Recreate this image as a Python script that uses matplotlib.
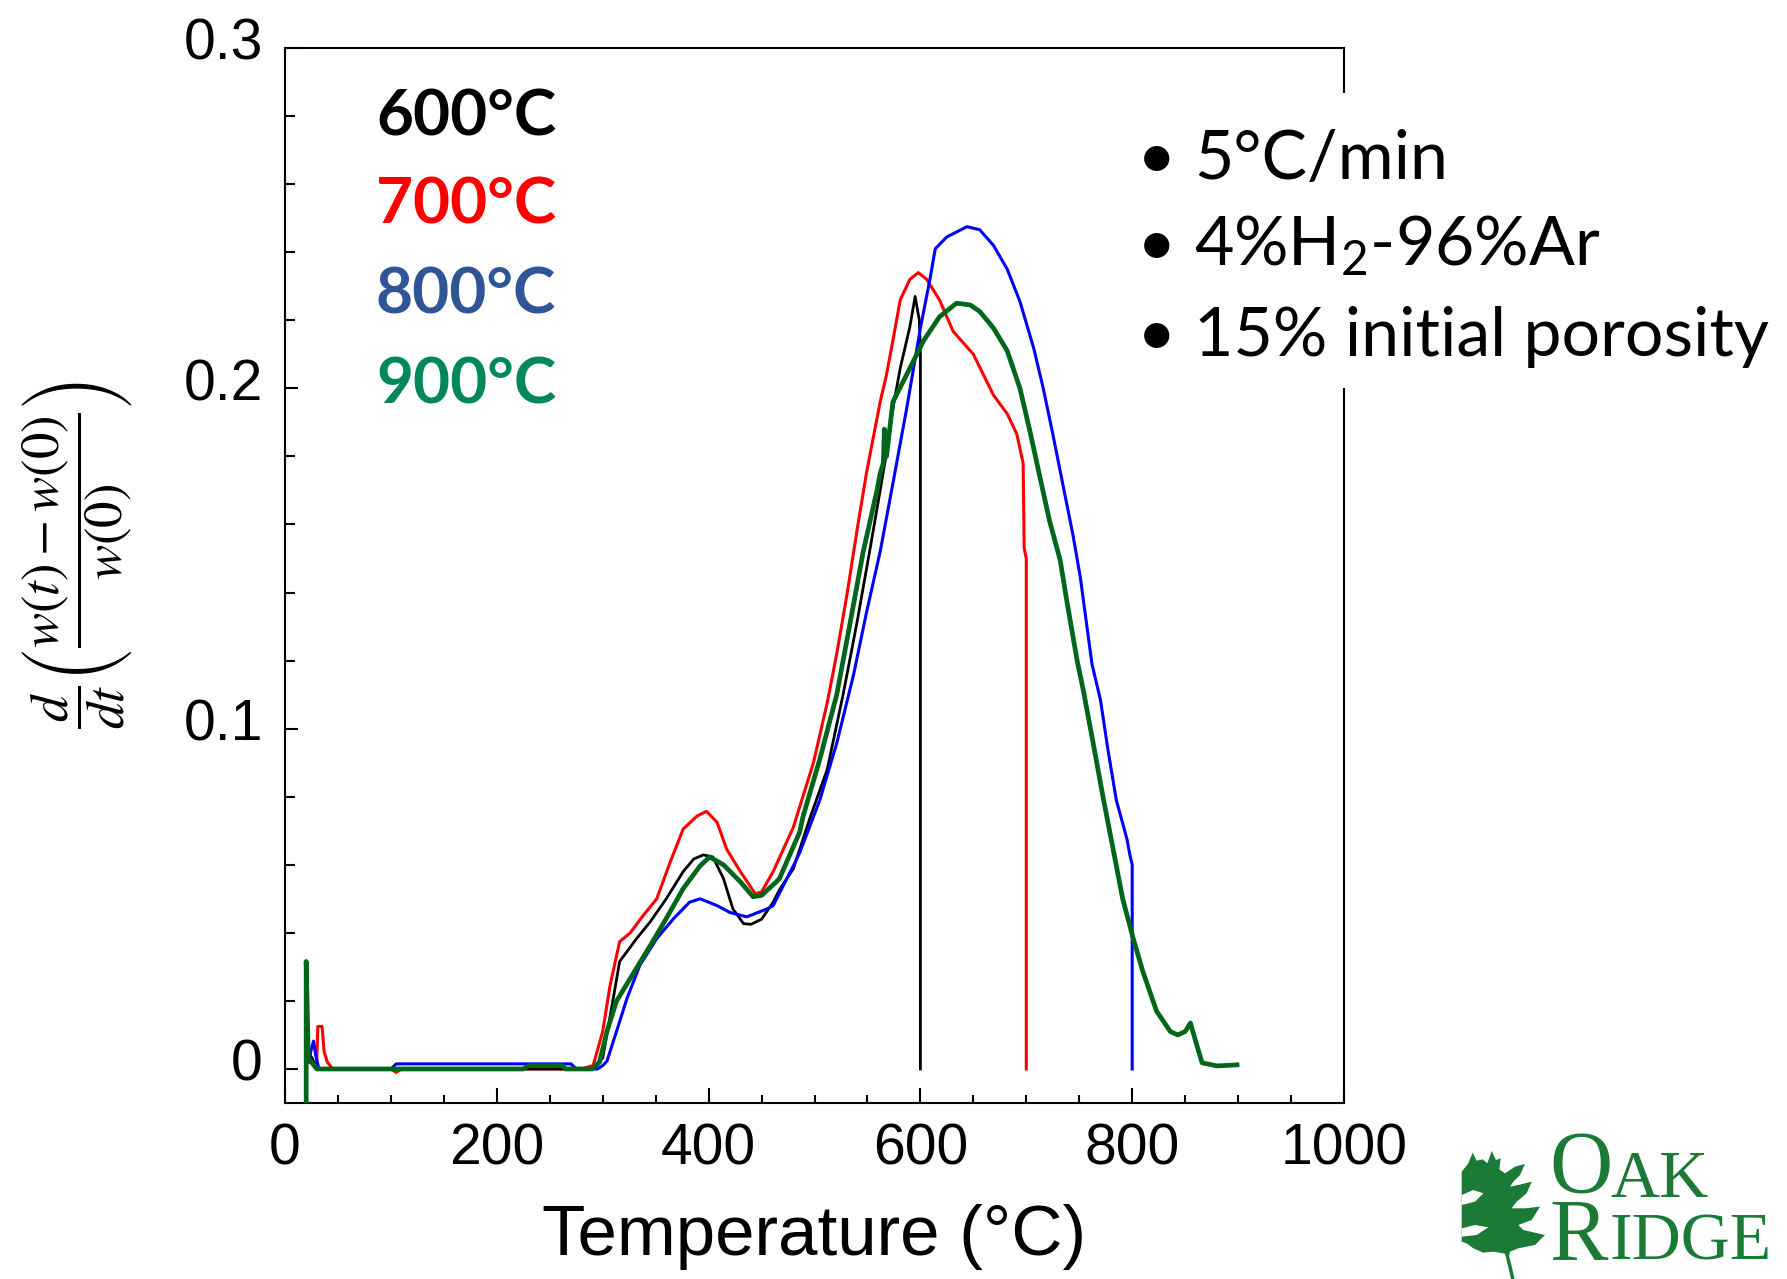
import matplotlib
matplotlib.use("Agg")
import matplotlib.pyplot as plt
from matplotlib.patches import Rectangle, Polygon
from matplotlib.transforms import ScaledTranslation

plt.rcParams['mathtext.fontset'] = 'custom'
plt.rcParams['mathtext.rm'] = 'Lato'
plt.rcParams['mathtext.it'] = 'Lato:italic'

# ---------------- data ----------------
t600 = [20, 22, 26, 30, 100, 200, 290, 293, 300, 310, 316, 332, 345, 360, 376, 386, 395,
        404, 414, 423, 433, 440, 450, 461, 467, 480, 496, 512, 527, 540, 552, 562, 568,
        574, 581, 590, 595, 599, 600, 600]
r600 = [0.0, 0.005, 0.003, 0.0, 0.0, 0.0, 0.0, 0.001, 0.0032, 0.0208, 0.0316, 0.0383,
        0.0433, 0.050, 0.058, 0.0617, 0.0629, 0.0623, 0.056, 0.047, 0.0427, 0.0425, 0.044,
        0.049, 0.0527, 0.0588, 0.074, 0.088, 0.110, 0.131, 0.152, 0.170, 0.181, 0.194,
        0.206, 0.218, 0.227, 0.220, 0.210, 0.0]

t700 = [30, 31, 35, 37, 40, 45, 100, 105, 110, 200, 280, 291, 300, 307, 316, 326, 338,
        351, 364, 376, 389, 398, 408, 417, 430, 444, 450, 461, 480, 499, 512, 521, 531,
        540, 549, 562, 568, 574, 581, 590, 598, 606, 618, 631, 650, 669, 682, 691, 697,
        698, 700, 700]
r700 = [0.002, 0.0125, 0.0125, 0.005, 0.002, 0.0, 0.0, -0.001, 0.0, 0.0, 0.0, 0.001,
        0.011, 0.0246, 0.0374, 0.040, 0.045, 0.050, 0.061, 0.0705, 0.0743, 0.0757, 0.0725,
        0.0646, 0.058, 0.0515, 0.052, 0.058, 0.071, 0.090, 0.1076, 0.122, 0.140, 0.158,
        0.175, 0.196, 0.204, 0.214, 0.226, 0.232, 0.234, 0.232, 0.226, 0.2167, 0.210,
        0.198, 0.1925, 0.1866, 0.178, 0.153, 0.150, 0.0]

t800 = [22, 25, 27, 29, 32, 100, 105, 270, 275, 295, 300, 304, 313, 323, 335, 351, 367,
        382, 392, 408, 420, 436, 455, 461, 480, 486, 505, 521, 537, 549, 562, 574, 587,
        600, 609, 614, 625, 644, 656, 669, 682, 694, 707, 716, 725, 735, 744, 751, 762,
        770, 777, 785, 795, 798, 800, 800]
r800 = [0.002, 0.006, 0.0082, 0.004, 0.0, 0.0, 0.0015, 0.0015, 0.0, 0.0, 0.001, 0.0023,
        0.011, 0.0208, 0.0304, 0.0383, 0.0442, 0.049, 0.050, 0.048, 0.046, 0.0447, 0.047,
        0.048, 0.0597, 0.0635, 0.079, 0.0957, 0.116, 0.134, 0.152, 0.172, 0.194, 0.2177,
        0.232, 0.241, 0.2445, 0.2475, 0.2466, 0.242, 0.235, 0.2255, 0.2118, 0.200,
        0.1866, 0.171, 0.157, 0.1445, 0.119, 0.1085, 0.094, 0.079, 0.0676, 0.0626,
        0.060, 0.0]

t900 = [20, 20, 22, 25, 30, 100, 225, 230, 262, 265, 290, 297, 304, 313, 326, 345, 360,
        376, 392, 401, 414, 430, 442, 450, 464, 467, 486, 489, 505, 521, 533, 546, 559,
        562, 565, 566, 568, 574, 587, 603, 618, 634, 647, 656, 669, 682, 694, 704, 713,
        722, 732, 738, 748, 754, 763, 773, 782, 791, 801, 810, 823, 836, 843, 850, 855,
        861, 866, 880, 899]
r900 = [-0.012, 0.0316, 0.0032, 0.002, 0.0, 0.0, 0.0, 0.001, 0.001, 0.0, 0.0, 0.002,
        0.011, 0.0199, 0.0266, 0.0363, 0.0442, 0.053, 0.0597, 0.0623, 0.060, 0.055,
        0.0506, 0.051, 0.055, 0.056, 0.0696, 0.074, 0.091, 0.110, 0.130, 0.152, 0.170,
        0.175, 0.178, 0.188, 0.180, 0.196, 0.204, 0.214, 0.221, 0.225, 0.2245, 0.2226,
        0.2177, 0.211, 0.200, 0.1866, 0.1737, 0.161, 0.1495, 0.138, 0.120, 0.111, 0.096,
        0.079, 0.0646, 0.050, 0.0383, 0.0287, 0.017, 0.011, 0.010, 0.011, 0.0135, 0.007,
        0.0018, 0.0009, 0.0012]

series_labels = ['600°C', '700°C', '800°C', '900°C']
x_ticks = [0, 200, 400, 600, 800, 1000]
y_ticks = [0, 0.1, 0.2, 0.3]
y_ticklabels = ['0', '0.1', '0.2', '0.3']
conditions = ['5°C/min', r'4%H$_{\mathrm{2}}$-96%Ar', '15% initial porosity']

# ---------------- figure ----------------
W, H = 1787, 1279
fig = plt.figure(figsize=(W / 100, H / 100), dpi=100)
fig.patch.set_facecolor('white')

def fx(px):
    return px / W

def fy(py):
    return 1 - py / H

ax = fig.add_axes([fx(285), fy(1103), fx(1344 - 285), (1103 - 48) / H])

ax.plot(t700, r700, color='#FF0000', lw=2.2, zorder=3)
ax.plot(t600, r600, color='black', lw=2.0, zorder=4)
ax.plot(t800, r800, color='#0000FF', lw=2.2, zorder=5)
ax.plot(t900, r900, color='#00661A', lw=3.4, zorder=6)

ax.set_xlim(0, 1000)
ax.set_ylim(-0.01, 0.3)
ax.set_xticks(x_ticks)
ax.set_xticks(range(0, 1001, 50), minor=True)
ax.set_yticks(y_ticks)
ax.set_yticklabels(y_ticklabels)
ax.set_yticks([v / 100 for v in range(0, 31, 2)], minor=True)

for s in ax.spines.values():
    s.set_linewidth(1.5)

ax.tick_params(axis='both', which='both', direction='in', top=False, right=False,
               width=1.5)
ax.tick_params(axis='x', which='major', length=11, pad=14)
ax.tick_params(axis='x', which='minor', length=6)
ax.tick_params(axis='y', which='major', length=9.5, pad=16)
ax.tick_params(axis='y', which='minor', length=7)
for lab in ax.get_xticklabels() + ax.get_yticklabels():
    lab.set_fontfamily('Liberation Sans')
    lab.set_fontsize(41)
off = ScaledTranslation(0, 9 / 100, fig.dpi_scale_trans)
for lab in ax.get_yticklabels():
    lab.set_transform(lab.get_transform() + off)

# x label
fig.text(fx(814), fy(1237), 'Temperature (°C)', ha='center', va='center',
         family='Liberation Sans', fontsize=51)

# y label (math)
fig.text(fx(78), fy(555),
         r'$\dfrac{d}{dt}\left(\dfrac{w(t)-w(0)}{w(0)}\right)$',
         rotation=90, ha='center', va='center', fontsize=38, math_fontfamily='stix')

# legend-like labels
leg_colors = ['black', '#FF0000', '#2F5597', '#00875A']
leg_base = [135, 223, 313, 403]
for lab, c, yb in zip(series_labels, leg_colors, leg_base):
    fig.text(fx(376), fy(yb), lab, color=c, family='Lato', fontweight='bold',
             fontsize=46, ha='left', va='baseline')

# white box with conditions
fig.add_artist(Rectangle((fx(1125), fy(388)), fx(W - 1125), (388 - 93) / H,
                         transform=fig.transFigure, facecolor='white',
                         edgecolor='none', zorder=5))
cond_base = [179, 266, 356]
for txt, yb in zip(conditions, cond_base):
    fig.text(fx(1157), fy(yb), '•', family='Lato', fontsize=49, ha='center',
             va='baseline', zorder=6)
    fig.text(fx(1194), fy(yb), txt, family='Lato', fontsize=49, ha='left',
             va='baseline', zorder=6, math_fontfamily='custom')

# Oak Ridge logo (va='baseline' on multi-line text aligns the last line)
logo = '#1A7A36'
fig.text(fx(1549), fy(1259), 'O\nR', family='Liberation Serif', fontsize=63,
         color=logo, ha='left', va='baseline', linespacing=0.78)
fig.text(fx(1610), fy(1259), 'AK\nIDGE', family='Liberation Serif', fontsize=49,
         color=logo, ha='left', va='baseline', linespacing=1.02)

lax = fig.add_axes([fx(1460), fy(1279), fx(140), 139 / H])
lax.set_xlim(0, 420)
lax.set_ylim(417, 0)
lax.axis('off')
leaf = [(5, 95), (25, 70), (38, 38), (50, 62), (68, 58), (82, 70), (95, 33), (108, 60),
        (122, 55), (118, 88), (135, 100), (165, 80), (195, 72), (180, 105), (160, 125),
        (150, 140), (175, 135), (215, 125), (200, 160), (170, 185), (155, 205),
        (195, 205), (240, 200), (215, 240), (175, 255), (190, 270), (255, 285),
        (225, 315), (175, 325), (150, 335), (148, 345), (130, 340), (100, 335),
        (70, 338), (40, 325), (20, 310), (5, 305)]
lax.add_patch(Polygon(leaf, closed=True, facecolor=logo, edgecolor='none'))
lax.add_patch(Polygon([(5, 165), (40, 150), (70, 160), (45, 185), (5, 195)],
                      closed=True, facecolor='white', edgecolor='none'))
lax.add_patch(Polygon([(5, 265), (45, 255), (85, 262), (50, 285), (5, 290)],
                      closed=True, facecolor='white', edgecolor='none'))
lax.plot([140, 150, 158], [340, 380, 415], color=logo, lw=2.5,
         solid_capstyle='round')

fig.savefig('out.png', dpi=100, facecolor='white')
